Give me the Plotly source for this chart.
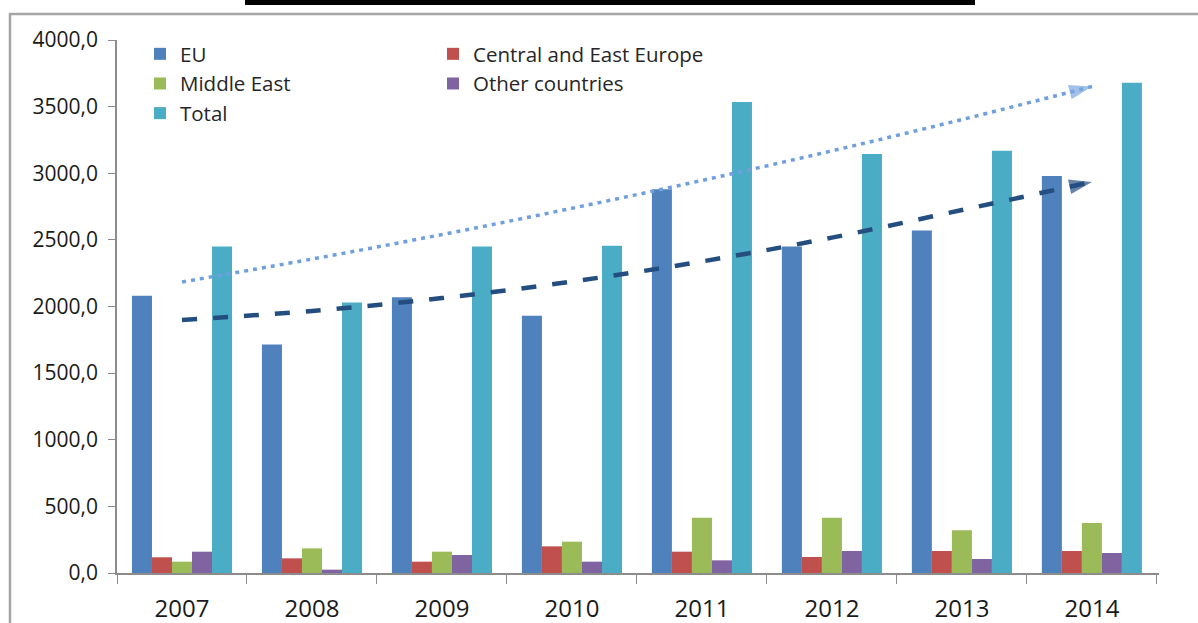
import plotly.graph_objects as go

years = ["2007", "2008", "2009", "2010", "2011", "2012", "2013", "2014"]
eu = [2080, 1715, 2070, 1930, 2880, 2450, 2570, 2980]
cee = [118, 110, 85, 200, 160, 120, 165, 165]
middle_east = [85, 185, 160, 235, 415, 415, 320, 375]
other = [160, 25, 135, 85, 95, 165, 105, 150]
total = [2450, 2030, 2450, 2455, 3535, 3145, 3168, 3680]

# hand-drawn trend arrows (values at each year)
trend_total = [2184, 2356, 2540, 2737, 2946, 3168, 3403, 3651]
trend_eu = [1899, 1967, 2063, 2187, 2338, 2517, 2724, 2935]

y_ticks = [0, 500, 1000, 1500, 2000, 2500, 3000, 3500, 4000]

FONT = "Open Sans"
series = [
    ("EU", eu, "#4f81bd", "legend"),
    ("Central and East Europe", cee, "#c0504d", "legend2"),
    ("Middle East", middle_east, "#9bbb59", "legend"),
    ("Other countries", other, "#8064a2", "legend2"),
    ("Total", total, "#4bacc6", "legend"),
]

fig = go.Figure()
for name, vals, col, lg in series:
    fig.add_trace(go.Bar(x=years, y=vals, name=name, marker_color=col,
                         marker_line_width=0, legend=lg))

n = len(years)
fig.add_trace(go.Scatter(
    x=years, y=trend_total, mode="lines+markers", showlegend=False,
    line=dict(color="#6f9fde", width=3.5, dash="4px,5px", shape="spline"),
    marker=dict(symbol="arrow", angleref="previous", color="#7aa6e0",
                size=[0] * (n - 1) + [24], line_width=0),
    hoverinfo="skip"))
fig.add_trace(go.Scatter(
    x=years, y=trend_eu, mode="lines+markers", showlegend=False,
    line=dict(color="#254e80", width=4.5, dash="15px,16px", shape="spline"),
    marker=dict(symbol="arrow", angleref="previous", color="#264f80",
                size=[0] * (n - 1) + [24], line_width=0),
    hoverinfo="skip"))

W, H = 1198, 623
L, R, T, B = 117, 39, 40, 50
pw, ph = W - L - R, H - T - B

def px_x(p):
    return (p - L) / pw

def px_y(p):
    return (H - B - p) / ph

fig.update_layout(
    width=W, height=H,
    margin=dict(l=L, r=R, t=T, b=B),
    paper_bgcolor="white", plot_bgcolor="white",
    barmode="group", bargap=0.23, bargroupgap=0,
    separators=",.",
    font=dict(family=FONT, color="#222222"),
    legend=dict(x=px_x(140), y=px_y(34), xanchor="left", yanchor="top",
                orientation="v", font=dict(size=20.5, color="#262626"),
                bgcolor="rgba(0,0,0,0)", tracegroupgap=0, itemwidth=30),
    legend2=dict(x=px_x(433), y=px_y(34), xanchor="left", yanchor="top",
                 orientation="v", font=dict(size=20.5, color="#262626"),
                 bgcolor="rgba(0,0,0,0)", tracegroupgap=0, itemwidth=30),
    xaxis=dict(type="category", showline=True, linecolor="#8c8c8c", linewidth=1.5,
               ticks="outside", tickson="boundaries", ticklen=9, tickcolor="#8c8c8c",
               tickfont=dict(size=24, color="#1a1a1a"), showgrid=False,
               ticklabelstandoff=13, automargin=False),
    yaxis=dict(range=[0, 4000], tickvals=y_ticks, tickformat=".1f",
               showline=True, linecolor="#8c8c8c", linewidth=1.5,
               ticks="outside", ticklen=7, tickcolor="#8c8c8c",
               tickfont=dict(size=21, color="#1a1a1a"), showgrid=False,
               zeroline=False, ticklabelstandoff=6, automargin=False),
    shapes=[
        dict(type="rect", xref="paper", yref="paper",
             x0=px_x(10), x1=px_x(1210), y0=px_y(14), y1=px_y(640),
             line=dict(color="#a6a6a6", width=2.5), layer="below"),
        dict(type="rect", xref="paper", yref="paper",
             x0=px_x(245), x1=px_x(975), y0=px_y(5), y1=px_y(-2),
             fillcolor="black", line_width=0),
    ],
)

fig.write_html("out.html", config={"displayModeBar": False},
               post_script="document.body.style.margin='0';document.body.style.overflow='hidden';")
